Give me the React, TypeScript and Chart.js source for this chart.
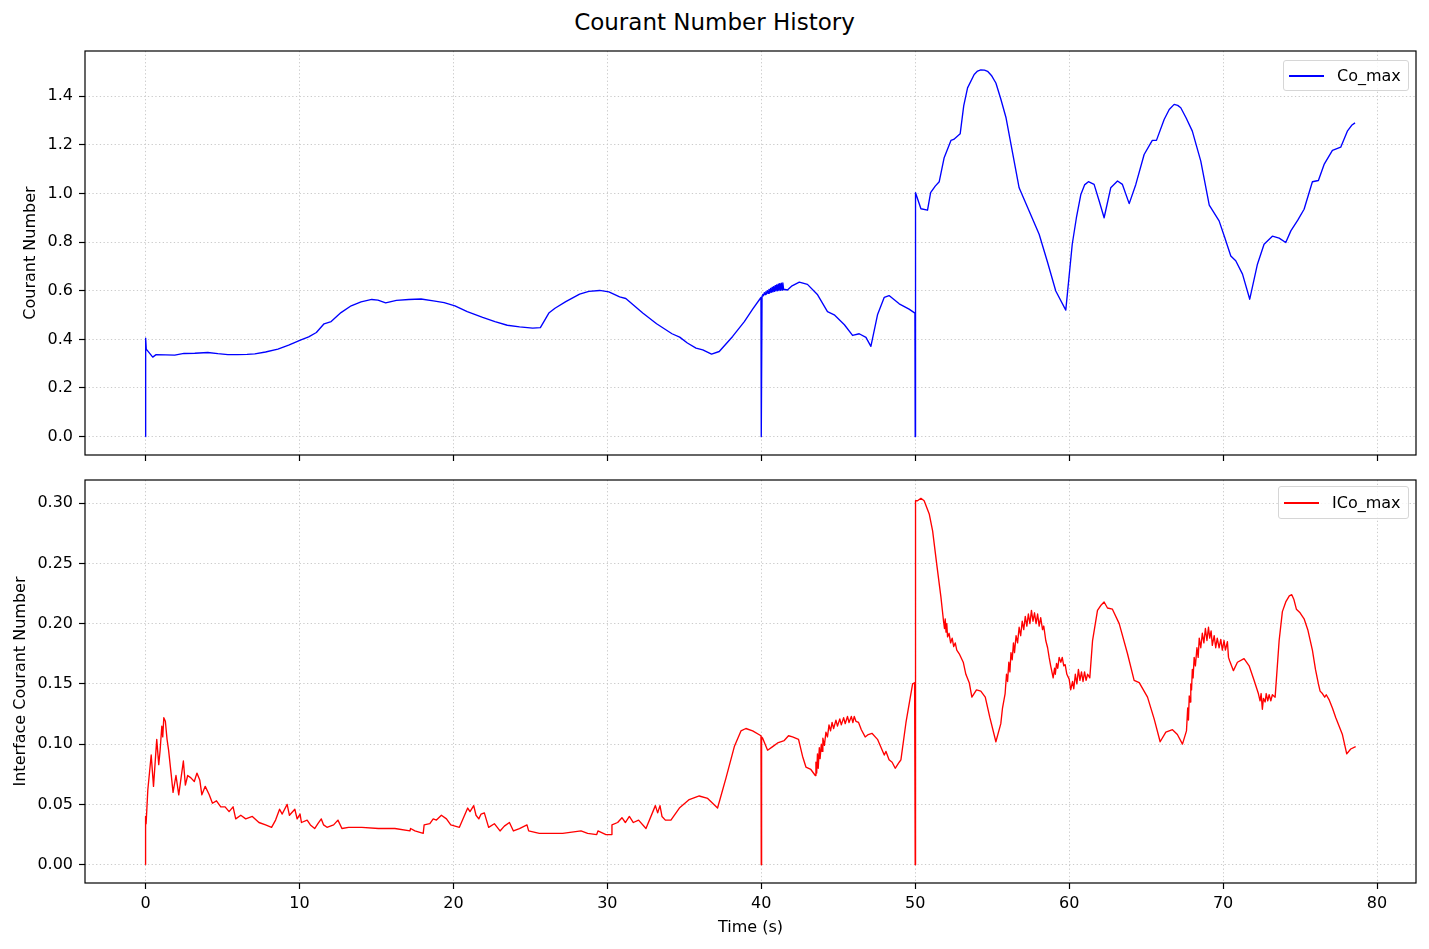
import { useEffect, useRef } from 'react';
import { Chart, registerables } from 'chart.js';

Chart.register(...registerables);

const FONT = "'DejaVu Sans', Verdana, sans-serif";

// axis ticks
const xTicks = [0, 10, 20, 30, 40, 50, 60, 70, 80];
const coTicks = [0, 0.2, 0.4, 0.6, 0.8, 1.0, 1.2, 1.4];
const icoTicks = [0, 0.05, 0.1, 0.15, 0.2, 0.25, 0.3];

// Co_max history: [time (s), value]
const coMax: [number, number][] = [
  [0, 0], [0.01, 0.405], [0.05, 0.36], [0.47, 0.327], [0.69, 0.337], [1.3, 0.336], [1.9, 0.335],
  [2.5, 0.342], [3.2, 0.343], [4.05, 0.346], [4.7, 0.341], [5.35, 0.337], [6.0, 0.337], [6.6, 0.338],
  [7.1, 0.34], [7.8, 0.348], [8.6, 0.36], [9.3, 0.376], [10.1, 0.398], [10.6, 0.41], [11.1, 0.428],
  [11.6, 0.464], [12.06, 0.473], [12.7, 0.51], [13.36, 0.538], [14.0, 0.554], [14.7, 0.564],
  [15.1, 0.561], [15.6, 0.55], [16.3, 0.56], [17.1, 0.564], [17.9, 0.566], [18.7, 0.558],
  [19.4, 0.551], [20.1, 0.538], [20.9, 0.514], [21.9, 0.49], [22.7, 0.473], [23.5, 0.458],
  [24.3, 0.451], [25.15, 0.446], [25.65, 0.448], [26.2, 0.508], [26.6, 0.528], [27.3, 0.555],
  [28.2, 0.586], [28.8, 0.597], [29.5, 0.601], [30.1, 0.595], [30.8, 0.575], [31.2, 0.568],
  [31.75, 0.538], [32.3, 0.508], [33.2, 0.464], [34.2, 0.423], [34.7, 0.409], [35.2, 0.385],
  [35.76, 0.364], [36.2, 0.357], [36.77, 0.339], [37.27, 0.35], [38.14, 0.412], [38.9, 0.473],
  [39.44, 0.524], [39.98, 0.572], [40.0, 0], [40.05, 0.578],
  [40.1, 0.585], [40.15, 0.58], [40.2, 0.592], [40.25, 0.584], [40.3, 0.596], [40.35, 0.587],
  [40.4, 0.6], [40.45, 0.589], [40.5, 0.605], [40.55, 0.591], [40.6, 0.609], [40.65, 0.593],
  [40.7, 0.613], [40.75, 0.595], [40.8, 0.617], [40.85, 0.597], [40.9, 0.621], [40.95, 0.599],
  [41.0, 0.624], [41.05, 0.6], [41.1, 0.627], [41.15, 0.601], [41.2, 0.629], [41.25, 0.602],
  [41.3, 0.631], [41.35, 0.603], [41.4, 0.632], [41.45, 0.606], [41.7, 0.603], [42.0, 0.62],
  [42.47, 0.635], [43.0, 0.626], [43.66, 0.583], [44.3, 0.514], [44.74, 0.501], [45.4, 0.46],
  [45.93, 0.416], [46.36, 0.423], [46.8, 0.408], [47.12, 0.371], [47.55, 0.501], [47.99, 0.573],
  [48.3, 0.58], [48.96, 0.546], [49.6, 0.524], [49.98, 0.508], [50.0, 0], [50.02, 1.003],
  [50.37, 0.937], [50.8, 0.931], [51.0, 1.003], [51.3, 1.03], [51.56, 1.048], [51.88, 1.147],
  [52.32, 1.218], [52.5, 1.222], [52.92, 1.245], [53.15, 1.36], [53.4, 1.434], [53.83, 1.489],
  [54.05, 1.503], [54.26, 1.508], [54.5, 1.507], [54.7, 1.502], [54.95, 1.485], [55.24, 1.454],
  [55.55, 1.39], [55.9, 1.311], [56.75, 1.023], [57.4, 0.928], [58.05, 0.832], [58.6, 0.716],
  [59.13, 0.599], [59.78, 0.52], [60.2, 0.791], [60.47, 0.9], [60.76, 0.996], [61.0, 1.035],
  [61.25, 1.048], [61.62, 1.037], [61.95, 0.969], [62.27, 0.9], [62.7, 1.023], [63.14, 1.051],
  [63.46, 1.037], [63.9, 0.958], [64.33, 1.037], [64.87, 1.16], [65.4, 1.218], [65.67, 1.218],
  [66.17, 1.304], [66.5, 1.345], [66.82, 1.366], [67.05, 1.362], [67.25, 1.352], [67.6, 1.31],
  [68.0, 1.256], [68.55, 1.133], [69.1, 0.952], [69.74, 0.887], [70.1, 0.82], [70.5, 0.743],
  [70.82, 0.723], [71.26, 0.668], [71.73, 0.565], [72.23, 0.709], [72.66, 0.791], [73.2, 0.824],
  [73.64, 0.816], [74.07, 0.798], [74.4, 0.846], [74.85, 0.89], [75.26, 0.935], [75.8, 1.048],
  [76.19, 1.053], [76.56, 1.119], [77.1, 1.177], [77.64, 1.19], [78.07, 1.256], [78.35, 1.28],
  [78.57, 1.29],
];

// ICo_max history: [time (s), value]
const icoMax: [number, number][] = [
  [0, 0], [0.005, 0.04], [0.04, 0.034], [0.15, 0.062], [0.37, 0.091], [0.52, 0.065], [0.73, 0.104],
  [0.86, 0.083], [0.95, 0.095], [1.06, 0.115], [1.12, 0.106], [1.19, 0.122], [1.29, 0.119],
  [1.4, 0.104], [1.5, 0.095], [1.66, 0.076], [1.79, 0.06], [1.98, 0.074], [2.16, 0.058],
  [2.31, 0.072], [2.46, 0.086], [2.59, 0.066], [2.74, 0.074], [2.95, 0.072], [3.17, 0.069],
  [3.34, 0.076], [3.53, 0.07], [3.66, 0.058], [3.88, 0.065], [4.14, 0.058], [4.35, 0.051],
  [4.61, 0.053], [4.89, 0.048], [5.17, 0.048], [5.43, 0.044], [5.69, 0.048], [5.86, 0.038],
  [6.19, 0.041], [6.51, 0.038], [6.94, 0.04], [7.37, 0.035], [7.8, 0.033], [8.19, 0.031],
  [8.45, 0.037], [8.71, 0.046], [8.88, 0.042], [9.2, 0.05], [9.35, 0.041], [9.7, 0.046],
  [9.85, 0.038], [10.04, 0.042], [10.13, 0.035], [10.5, 0.037], [10.71, 0.033], [10.99, 0.03],
  [11.2, 0.034], [11.42, 0.038], [11.57, 0.033], [11.79, 0.031], [12.22, 0.033], [12.5, 0.037],
  [12.76, 0.03], [13.19, 0.031], [14.05, 0.031], [15.13, 0.03], [16.2, 0.03], [17.18, 0.028],
  [17.22, 0.03], [17.5, 0.028], [18.04, 0.026], [18.1, 0.033], [18.47, 0.034], [18.69, 0.038],
  [18.9, 0.037], [19.22, 0.041], [19.55, 0.038], [19.83, 0.033], [20.39, 0.031], [20.93, 0.047],
  [21.08, 0.044], [21.32, 0.049], [21.47, 0.041], [21.65, 0.038], [21.8, 0.042], [22.01, 0.043],
  [22.29, 0.031], [22.66, 0.034], [23.03, 0.028], [23.31, 0.032], [23.64, 0.035], [23.9, 0.028],
  [24.29, 0.03], [24.78, 0.033], [24.89, 0.028], [25.58, 0.026], [27.1, 0.026], [28.29, 0.028],
  [28.72, 0.026], [29.31, 0.025], [29.39, 0.028], [29.91, 0.025], [30.24, 0.025], [30.3, 0.033],
  [30.67, 0.035], [30.95, 0.039], [31.17, 0.035], [31.43, 0.04], [31.69, 0.035], [32.03, 0.037],
  [32.51, 0.03], [33.12, 0.049], [33.27, 0.043], [33.42, 0.049], [33.55, 0.04], [33.77, 0.037],
  [34.13, 0.037], [34.68, 0.047], [35.32, 0.054], [35.97, 0.057], [36.52, 0.055], [37.16, 0.047],
  [37.71, 0.072], [38.25, 0.098], [38.68, 0.111], [39.0, 0.113], [39.44, 0.111], [39.98, 0.107],
  [40.0, 0], [40.02, 0.106], [40.09, 0.105], [40.41, 0.095], [40.74, 0.098], [41.06, 0.101],
  [41.49, 0.103], [41.77, 0.107], [42.03, 0.106], [42.42, 0.104], [42.68, 0.09], [42.9, 0.081],
  [43.22, 0.079], [43.51, 0.074], [43.55, 0.085], [43.6, 0.076], [43.65, 0.092], [43.7, 0.08],
  [43.77, 0.097], [43.82, 0.088], [43.9, 0.1], [43.95, 0.094], [44.0, 0.105], [44.1, 0.099],
  [44.2, 0.11], [44.3, 0.106], [44.4, 0.116], [44.5, 0.111], [44.6, 0.118], [44.7, 0.113],
  [44.85, 0.12], [44.95, 0.115], [45.1, 0.121], [45.2, 0.116], [45.35, 0.122], [45.45, 0.117],
  [45.6, 0.123], [45.7, 0.118], [45.85, 0.123], [45.95, 0.118], [46.04, 0.123], [46.15, 0.119],
  [46.32, 0.118], [46.5, 0.112], [46.75, 0.106], [46.95, 0.108], [47.19, 0.109], [47.55, 0.104],
  [47.99, 0.091], [48.1, 0.094], [48.3, 0.087], [48.5, 0.085], [48.7, 0.08], [48.96, 0.085],
  [49.07, 0.087], [49.4, 0.118], [49.83, 0.15], [49.96, 0.151], [50.0, 0], [50.02, 0.302],
  [50.15, 0.302], [50.37, 0.304], [50.58, 0.302], [50.91, 0.291], [51.13, 0.277], [51.39, 0.25],
  [51.67, 0.222], [51.84, 0.202], [51.9, 0.196], [51.95, 0.204], [52.0, 0.193], [52.05, 0.2],
  [52.1, 0.189], [52.2, 0.192], [52.3, 0.184], [52.4, 0.188], [52.5, 0.181], [52.6, 0.184],
  [52.7, 0.178], [52.86, 0.175], [53.12, 0.168], [53.29, 0.158], [53.51, 0.151], [53.68, 0.139],
  [53.98, 0.145], [54.26, 0.144], [54.55, 0.139], [54.85, 0.122], [55.24, 0.102], [55.56, 0.117],
  [55.67, 0.13], [55.84, 0.142], [55.93, 0.158], [56.0, 0.152], [56.08, 0.168], [56.15, 0.16],
  [56.22, 0.176], [56.3, 0.17], [56.38, 0.184], [56.45, 0.176], [56.55, 0.19], [56.65, 0.184],
  [56.75, 0.197], [56.85, 0.19], [56.95, 0.202], [57.05, 0.195], [57.15, 0.206], [57.25, 0.198],
  [57.35, 0.208], [57.45, 0.2], [57.55, 0.211], [57.65, 0.202], [57.75, 0.209], [57.85, 0.2],
  [57.95, 0.208], [58.05, 0.198], [58.15, 0.205], [58.27, 0.195], [58.35, 0.198], [58.48, 0.186],
  [58.6, 0.18], [58.7, 0.172], [58.8, 0.165], [58.96, 0.155], [59.05, 0.163], [59.1, 0.158],
  [59.18, 0.167], [59.26, 0.163], [59.35, 0.172], [59.46, 0.168], [59.55, 0.172], [59.65, 0.165],
  [59.74, 0.166], [59.85, 0.158], [60.0, 0.154], [60.1, 0.145], [60.22, 0.152], [60.3, 0.146],
  [60.4, 0.158], [60.5, 0.15], [60.6, 0.162], [60.7, 0.153], [60.8, 0.16], [60.9, 0.152],
  [61.0, 0.16], [61.1, 0.153], [61.2, 0.158], [61.34, 0.155], [61.52, 0.186], [61.84, 0.211],
  [62.05, 0.215], [62.27, 0.218], [62.49, 0.213], [62.81, 0.212], [63.25, 0.2], [63.79, 0.175],
  [64.22, 0.153], [64.55, 0.151], [65.09, 0.139], [65.52, 0.121], [65.91, 0.102], [66.28, 0.11],
  [66.71, 0.112], [67.03, 0.108], [67.36, 0.1], [67.62, 0.111], [67.7, 0.13], [67.75, 0.12],
  [67.8, 0.14], [67.85, 0.135], [67.9, 0.15], [67.95, 0.145], [68.0, 0.162], [68.05, 0.155],
  [68.12, 0.172], [68.2, 0.165], [68.3, 0.18], [68.38, 0.172], [68.45, 0.188], [68.55, 0.18],
  [68.65, 0.192], [68.75, 0.184], [68.85, 0.196], [68.95, 0.186], [69.05, 0.197], [69.13, 0.188],
  [69.22, 0.194], [69.3, 0.182], [69.42, 0.19], [69.52, 0.18], [69.62, 0.188], [69.74, 0.18],
  [69.85, 0.187], [69.95, 0.178], [70.06, 0.186], [70.15, 0.178], [70.28, 0.185], [70.35, 0.172],
  [70.43, 0.169], [70.67, 0.161], [70.93, 0.168], [71.36, 0.171], [71.69, 0.165], [72.01, 0.153],
  [72.29, 0.142], [72.4, 0.136], [72.47, 0.142], [72.55, 0.129], [72.62, 0.138], [72.73, 0.135],
  [72.8, 0.142], [72.9, 0.136], [72.99, 0.141], [73.1, 0.136], [73.2, 0.141], [73.38, 0.139],
  [73.64, 0.186], [73.85, 0.21], [74.07, 0.218], [74.3, 0.223], [74.46, 0.224], [74.6, 0.22],
  [74.76, 0.212], [75.0, 0.209], [75.26, 0.204], [75.5, 0.195], [75.8, 0.178], [76.0, 0.162],
  [76.19, 0.15], [76.3, 0.144], [76.45, 0.142], [76.6, 0.139], [76.7, 0.141], [76.88, 0.137],
  [77.1, 0.13], [77.32, 0.122], [77.75, 0.108], [78.03, 0.092], [78.29, 0.096], [78.61, 0.098],
];

// axes box outline, like matplotlib spines
const framePlugin = {
  id: 'frame',
  afterDatasetsDraw(chart: any) {
    const { ctx, chartArea: a } = chart;
    ctx.save();
    ctx.strokeStyle = '#000';
    ctx.lineWidth = 1.2;
    ctx.strokeRect(a.left, a.top, a.right - a.left, a.bottom - a.top);
    ctx.restore();
  },
};

const Panel = ({ series, color, label, yTicks, yMin, yMax, decimals, yTitle, yTitlePad,
  top, height, padTop, xHeight, showX }: any) => {
  const canvasRef = useRef<HTMLCanvasElement>(null);

  useEffect(() => {
    if (!canvasRef.current) return;
    const grid = { color: '#cbcbcb', lineWidth: 1, tickColor: '#000', tickLength: 6, tickWidth: 1.2 };
    const chart = new Chart(canvasRef.current, {
      type: 'scatter',
      data: {
        datasets: [{
          label,
          data: series.map(([t, v]: number[]) => ({ x: t, y: v })),
          showLine: true,
          borderColor: color,
          backgroundColor: color,
          borderWidth: 1.35,
          borderJoinStyle: 'round',
          pointRadius: 0,
          tension: 0,
        }],
      },
      options: {
        animation: false,
        responsive: false,
        maintainAspectRatio: false,
        layout: { padding: { top: padTop, right: 13, left: 0, bottom: 0 } },
        plugins: { legend: { display: false }, tooltip: { enabled: false } },
        scales: {
          x: {
            type: 'linear',
            min: -3.93,
            max: 82.53,
            afterBuildTicks: (s: any) => { s.ticks = xTicks.map(v => ({ value: v })); },
            afterFit: (s: any) => { s.height = xHeight; s.paddingLeft = 0; s.paddingRight = 0; },
            ticks: {
              display: showX,
              autoSkip: false,
              maxRotation: 0,
              padding: 5.5,
              color: '#000',
              font: { family: FONT, size: 16 },
              callback: (v: any) => String(v),
            },
            grid,
            border: { display: false, dash: [1.3, 2.4] },
            title: {
              display: showX,
              text: 'Time (s)',
              color: '#000',
              font: { family: FONT, size: 16 },
              padding: { top: 0, bottom: 11.5 },
            },
          },
          y: {
            type: 'linear',
            min: yMin,
            max: yMax,
            afterBuildTicks: (s: any) => { s.ticks = yTicks.map((v: number) => ({ value: v })); },
            afterFit: (s: any) => { s.width = 85; s.paddingTop = 0; s.paddingBottom = 0; },
            ticks: {
              autoSkip: false,
              padding: 6,
              color: '#000',
              font: { family: FONT, size: 16 },
              callback: (v: any) => Number(v).toFixed(decimals),
            },
            grid,
            border: { display: false, dash: [1.3, 2.4] },
            title: {
              display: true,
              text: yTitle,
              color: '#000',
              font: { family: FONT, size: 16 },
              padding: { top: yTitlePad, bottom: 0 },
            },
          },
        },
      },
      plugins: [framePlugin],
    } as any);
    return () => chart.destroy();
  }, []);

  return (
    <canvas
      ref={canvasRef}
      width={1429}
      height={height}
      style={{ position: 'absolute', left: 0, top, width: 1429, height }}
    />
  );
};

const Legend = ({ text, color, left, top, width, height, lineTop, textLeft }: any) => (
  <div
    style={{
      position: 'absolute', left, top, width, height, boxSizing: 'border-box',
      border: '1px solid #d6d6d6', borderRadius: 3, background: 'rgba(255,255,255,0.8)',
    }}
  >
    <div
      style={{
        position: 'absolute', left: 5, top: lineTop, width: 35, height: 1.5,
        background: color,
      }}
    />
    <span
      style={{
        position: 'absolute', left: textLeft, top: 0, lineHeight: `${height - 2}px`,
        fontFamily: FONT, fontSize: 16, color: '#000', whiteSpace: 'nowrap',
      }}
    >
      {text}
    </span>
  </div>
);

export default function App() {
  return (
    <div style={{ position: 'absolute', left: 0, top: 0, width: 1429, height: 949, background: '#fff' }}>
      <div
        style={{
          position: 'absolute', left: 0, top: 11, width: 1429, textAlign: 'center',
          fontFamily: FONT, fontSize: 23, lineHeight: '23px', color: '#000',
        }}
      >
        Courant Number History
      </div>
      <Panel
        series={coMax} color="#0000ff" label="Co_max" yTicks={coTicks} yMin={-0.0755} yMax={1.5855}
        decimals={1} yTitle="Courant Number" yTitlePad={21.4}
        top={0} height={470} padTop={51} xHeight={15} showX={false}
      />
      <Panel
        series={icoMax} color="#ff0000" label="ICo_max" yTicks={icoTicks} yMin={-0.0152} yMax={0.3192}
        decimals={2} yTitle="Interface Courant Number" yTitlePad={11.4}
        top={470} height={479} padTop={10} xHeight={66} showX={true}
      />
      <Legend text="Co_max" color="#0000ff" left={1283} top={60} width={126} height={31} lineTop={14} textLeft={53} />
      <Legend text="ICo_max" color="#ff0000" left={1278} top={486} width={131} height={33} lineTop={15} textLeft={53} />
    </div>
  );
}
